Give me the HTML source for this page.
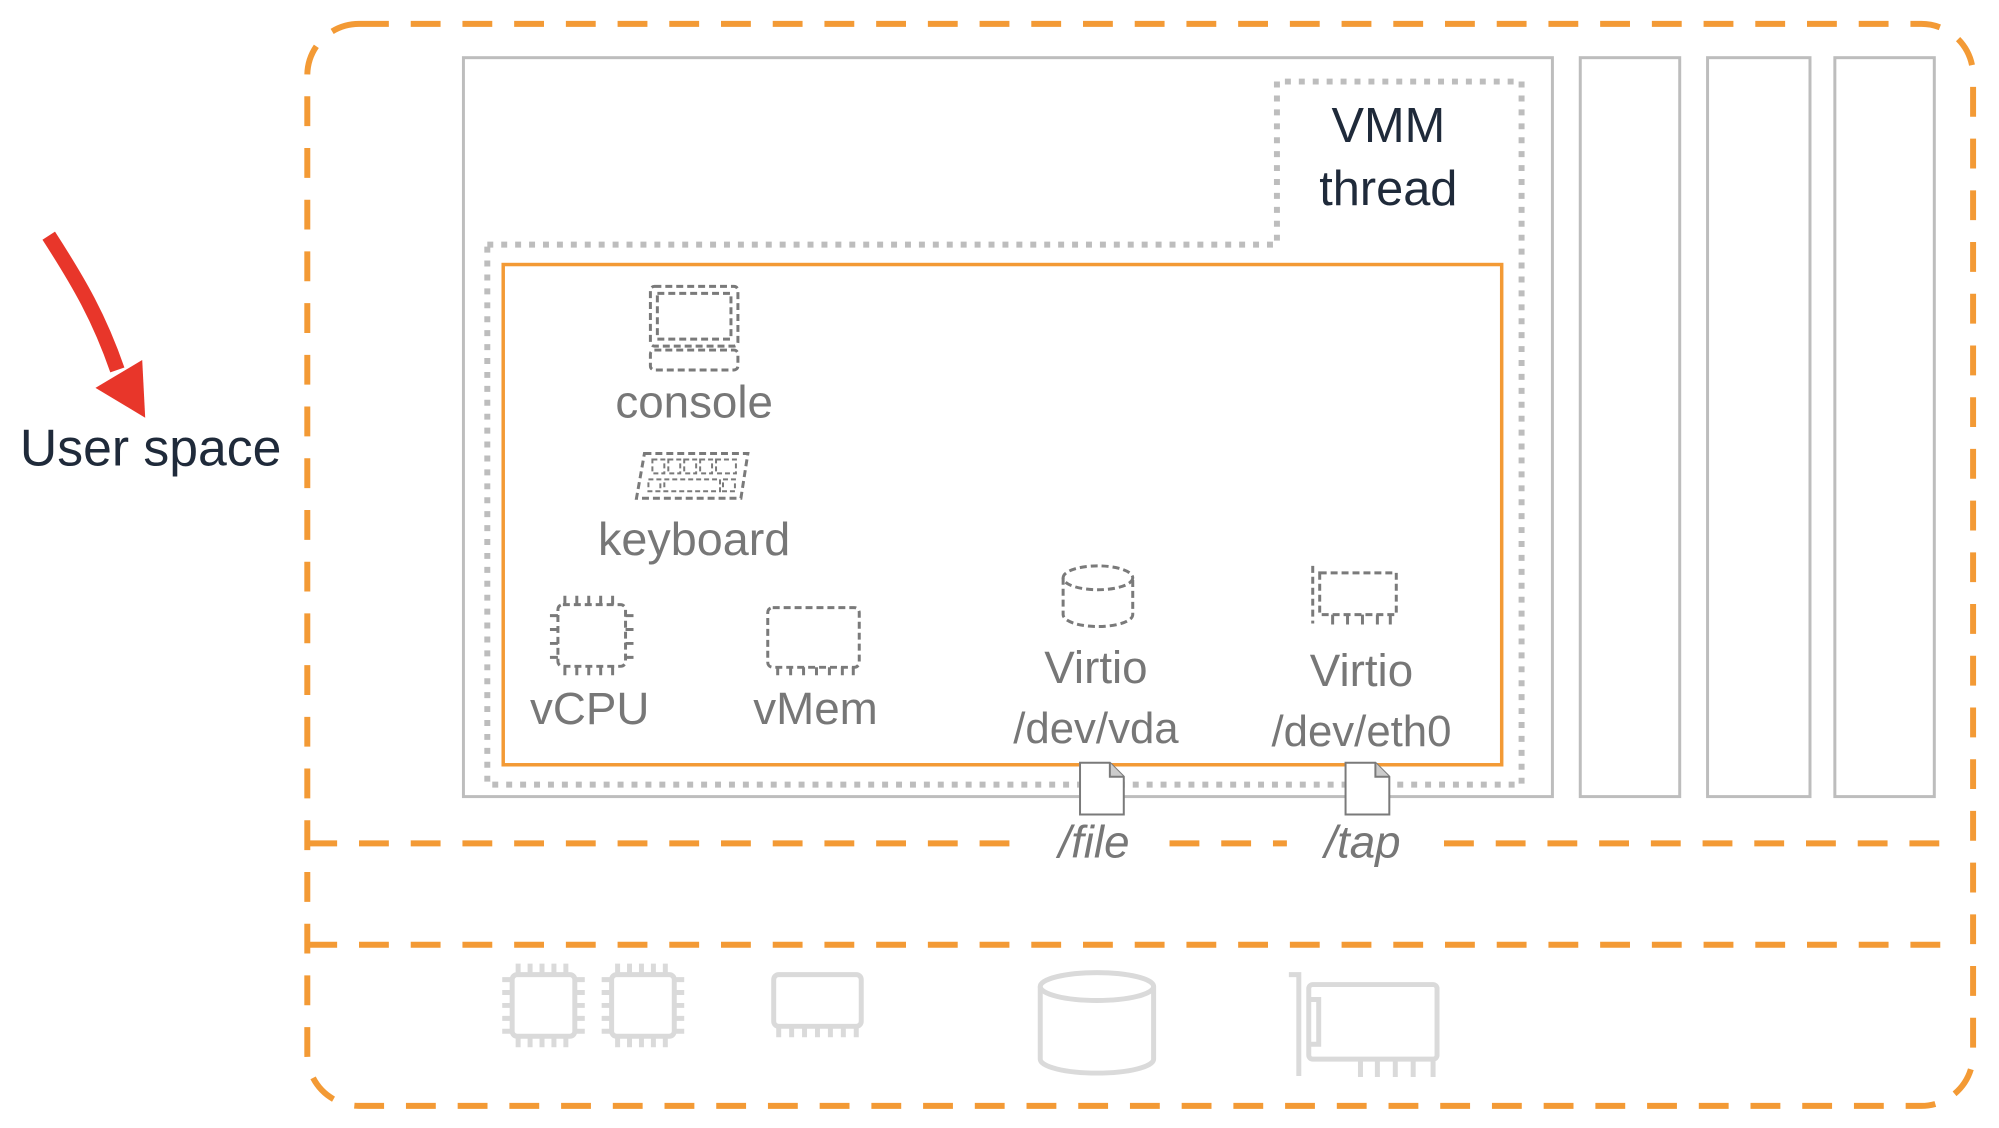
<!DOCTYPE html>
<html><head><meta charset="utf-8"><style>
html,body{margin:0;padding:0;background:#fff;}
svg{display:block;}
text{font-family:"Liberation Sans",sans-serif;}
</style></head><body>
<svg width="1999" height="1128" viewBox="0 0 1999 1128" xmlns="http://www.w3.org/2000/svg">
<g transform="scale(0.9945)">
<!-- outer dashed -->
<rect x="309" y="24" width="1675" height="1088" rx="52" fill="none" stroke="#f39a35" stroke-width="6" stroke-dasharray="30,22"/>
<line x1="309" y1="848" x2="1032" y2="848" stroke="#f39a35" stroke-width="6" stroke-dasharray="30,22"/>
<line x1="1176" y1="848" x2="1294" y2="848" stroke="#f39a35" stroke-width="6" stroke-dasharray="30,22"/>
<line x1="1452" y1="848" x2="1966" y2="848" stroke="#f39a35" stroke-width="6" stroke-dasharray="30,22"/>
<line x1="309" y1="950" x2="1966" y2="950" stroke="#f39a35" stroke-width="6" stroke-dasharray="30,22"/>
<!-- gray boxes -->
<rect x="466" y="58" width="1095" height="743" fill="none" stroke="#bdbdbd" stroke-width="3"/>
<rect x="1589" y="58" width="100" height="743" fill="none" stroke="#bdbdbd" stroke-width="3"/>
<rect x="1717" y="58" width="103" height="743" fill="none" stroke="#bdbdbd" stroke-width="3"/>
<rect x="1845" y="58" width="100" height="743" fill="none" stroke="#bdbdbd" stroke-width="3"/>
<!-- dotted outline -->
<polygon points="490,246 1284,246 1284,82 1530,82 1530,789 490,789" fill="none" stroke="#bdbdbd" stroke-width="6" stroke-dasharray="6,8"/>
<!-- orange box -->
<rect x="506" y="266" width="1004" height="503" fill="none" stroke="#f39a35" stroke-width="3.5"/>
<text x="1396" y="143" font-size="49" fill="#1f2a3a" text-anchor="middle">VMM</text>
<text x="1396" y="206" font-size="49" fill="#1f2a3a" text-anchor="middle">thread</text>
<!-- user space -->
<path d="M49,237 C80,285 100,320 118,372" stroke="#e8362a" stroke-width="15" fill="none"/>
<polygon points="96,390 143,362 146,420" fill="#e8362a"/>
<text x="20" y="468" font-size="52" fill="#1f2a3a">User space</text>
<g fill="none" stroke="#7a7a7a" stroke-width="3" stroke-dasharray="7,4">
<!-- console -->
<rect x="654" y="288" width="88" height="60" rx="4"/>
<rect x="661" y="295" width="74" height="46"/>
<rect x="654" y="352" width="88" height="20" rx="4"/>
<!-- keyboard -->
<polygon points="648,456 752,456 745,501 640,501"/>
</g>
<g fill="none" stroke="#7a7a7a" stroke-width="2" stroke-dasharray="5,3">
<rect x="656" y="462" width="12" height="14"/><rect x="672" y="462" width="12" height="14"/><rect x="688" y="462" width="12" height="14"/><rect x="704" y="462" width="12" height="14"/><rect x="720" y="462" width="20" height="14"/>
<rect x="652" y="482" width="12" height="12"/><rect x="668" y="482" width="56" height="12"/><rect x="727" y="482" width="12" height="12"/>
</g>
<g fill="none" stroke="#7a7a7a" stroke-width="3" stroke-dasharray="7,4">
<rect x="561" y="608" width="68" height="62" rx="5"/>
<rect x="772" y="611" width="92" height="60" rx="5"/>
<ellipse cx="1104" cy="581" rx="35" ry="12"/>
<path d="M1069,581 V618 A35,12 0 0 0 1139,618 V581"/>
<rect x="1327" y="576" width="77" height="42"/>
<line x1="1320" y1="569" x2="1320" y2="627"/>
</g>
<g stroke="#7a7a7a" stroke-width="3">
<path d="M568,608 v-9 M580,608 v-9 M592,608 v-9 M604,608 v-9 M616,608 v-9 M568,670 v9 M580,670 v9 M592,670 v9 M604,670 v9 M616,670 v9 M561,619 h-8 M561,633 h-8 M561,647 h-8 M561,661 h-8 M629,619 h8 M629,633 h8 M629,647 h8 M629,661 h8"/>
<path d="M782,671 v8 M795,671 v8 M808,671 v8 M821,671 v8 M834,671 v8 M847,671 v8 M858,671 v8"/>
<path d="M1340,618 v10 M1355,618 v10 M1370,618 v10 M1385,618 v10 M1398,618 v10"/>
</g>
<g font-size="46" fill="#777" text-anchor="middle">
<text x="698" y="420">console</text>
<text x="698" y="558" font-size="47">keyboard</text>
<text x="593" y="728">vCPU</text>
<text x="820" y="728">vMem</text>
<text x="1102" y="687">Virtio</text>
<text x="1102" y="747" font-size="44">/dev/vda</text>
<text x="1369" y="690">Virtio</text>
<text x="1369" y="750" font-size="44">/dev/eth0</text>
<text x="1100" y="862" font-style="italic">/file</text>
<text x="1370" y="862" font-style="italic">/tap</text>
</g>
<!-- file icons -->
<g fill="#fff" stroke="#7a7a7a" stroke-width="2">
<path d="M1086,767 h30 l14,14 v38 h-44 z"/><path d="M1116,767 v14 h14" fill="#ccc"/>
<path d="M1353,767 h30 l14,14 v38 h-44 z"/><path d="M1383,767 v14 h14" fill="#ccc"/>
</g>
<!-- bottom hardware -->
<g fill="none" stroke="#dadada" stroke-width="5" transform="translate(3,5)">
<rect x="512" y="975" width="63" height="62" rx="5"/>
<rect x="612" y="975" width="63" height="62" rx="5"/>
<path d="M518,975 v-11 M530,975 v-11 M542,975 v-11 M554,975 v-11 M566,975 v-11 M518,1037 v11 M530,1037 v11 M542,1037 v11 M554,1037 v11 M566,1037 v11 M512,980 h-10 M512,993 h-10 M512,1006 h-10 M512,1019 h-10 M512,1032 h-10 M575,980 h10 M575,993 h10 M575,1006 h10 M575,1019 h10 M575,1032 h10"/>
<path d="M618,975 v-11 M630,975 v-11 M642,975 v-11 M654,975 v-11 M666,975 v-11 M618,1037 v11 M630,1037 v11 M642,1037 v11 M654,1037 v11 M666,1037 v11 M612,980 h-10 M612,993 h-10 M612,1006 h-10 M612,1019 h-10 M612,1032 h-10 M675,980 h10 M675,993 h10 M675,1006 h10 M675,1019 h10 M675,1032 h10"/>
<rect x="775" y="975" width="88" height="52" rx="5"/>
<path d="M780,1027 v11 M793,1027 v11 M806,1027 v11 M819,1027 v11 M832,1027 v11 M845,1027 v11 M858,1027 v11"/>
<ellipse cx="1100" cy="987" rx="57" ry="14"/>
<path d="M1043,987 V1060 A57,14 0 0 0 1157,1060 V987"/>
<rect x="1313" y="985" width="129" height="75" rx="4"/>
<path d="M1293,975 h10 v102 M1313,1000 h10 v45 h-10 M1365,1060 v18 M1382,1060 v18 M1400,1060 v18 M1418,1060 v18 M1438,1060 v18"/>
</g>
</g>
</svg>
</body></html>
